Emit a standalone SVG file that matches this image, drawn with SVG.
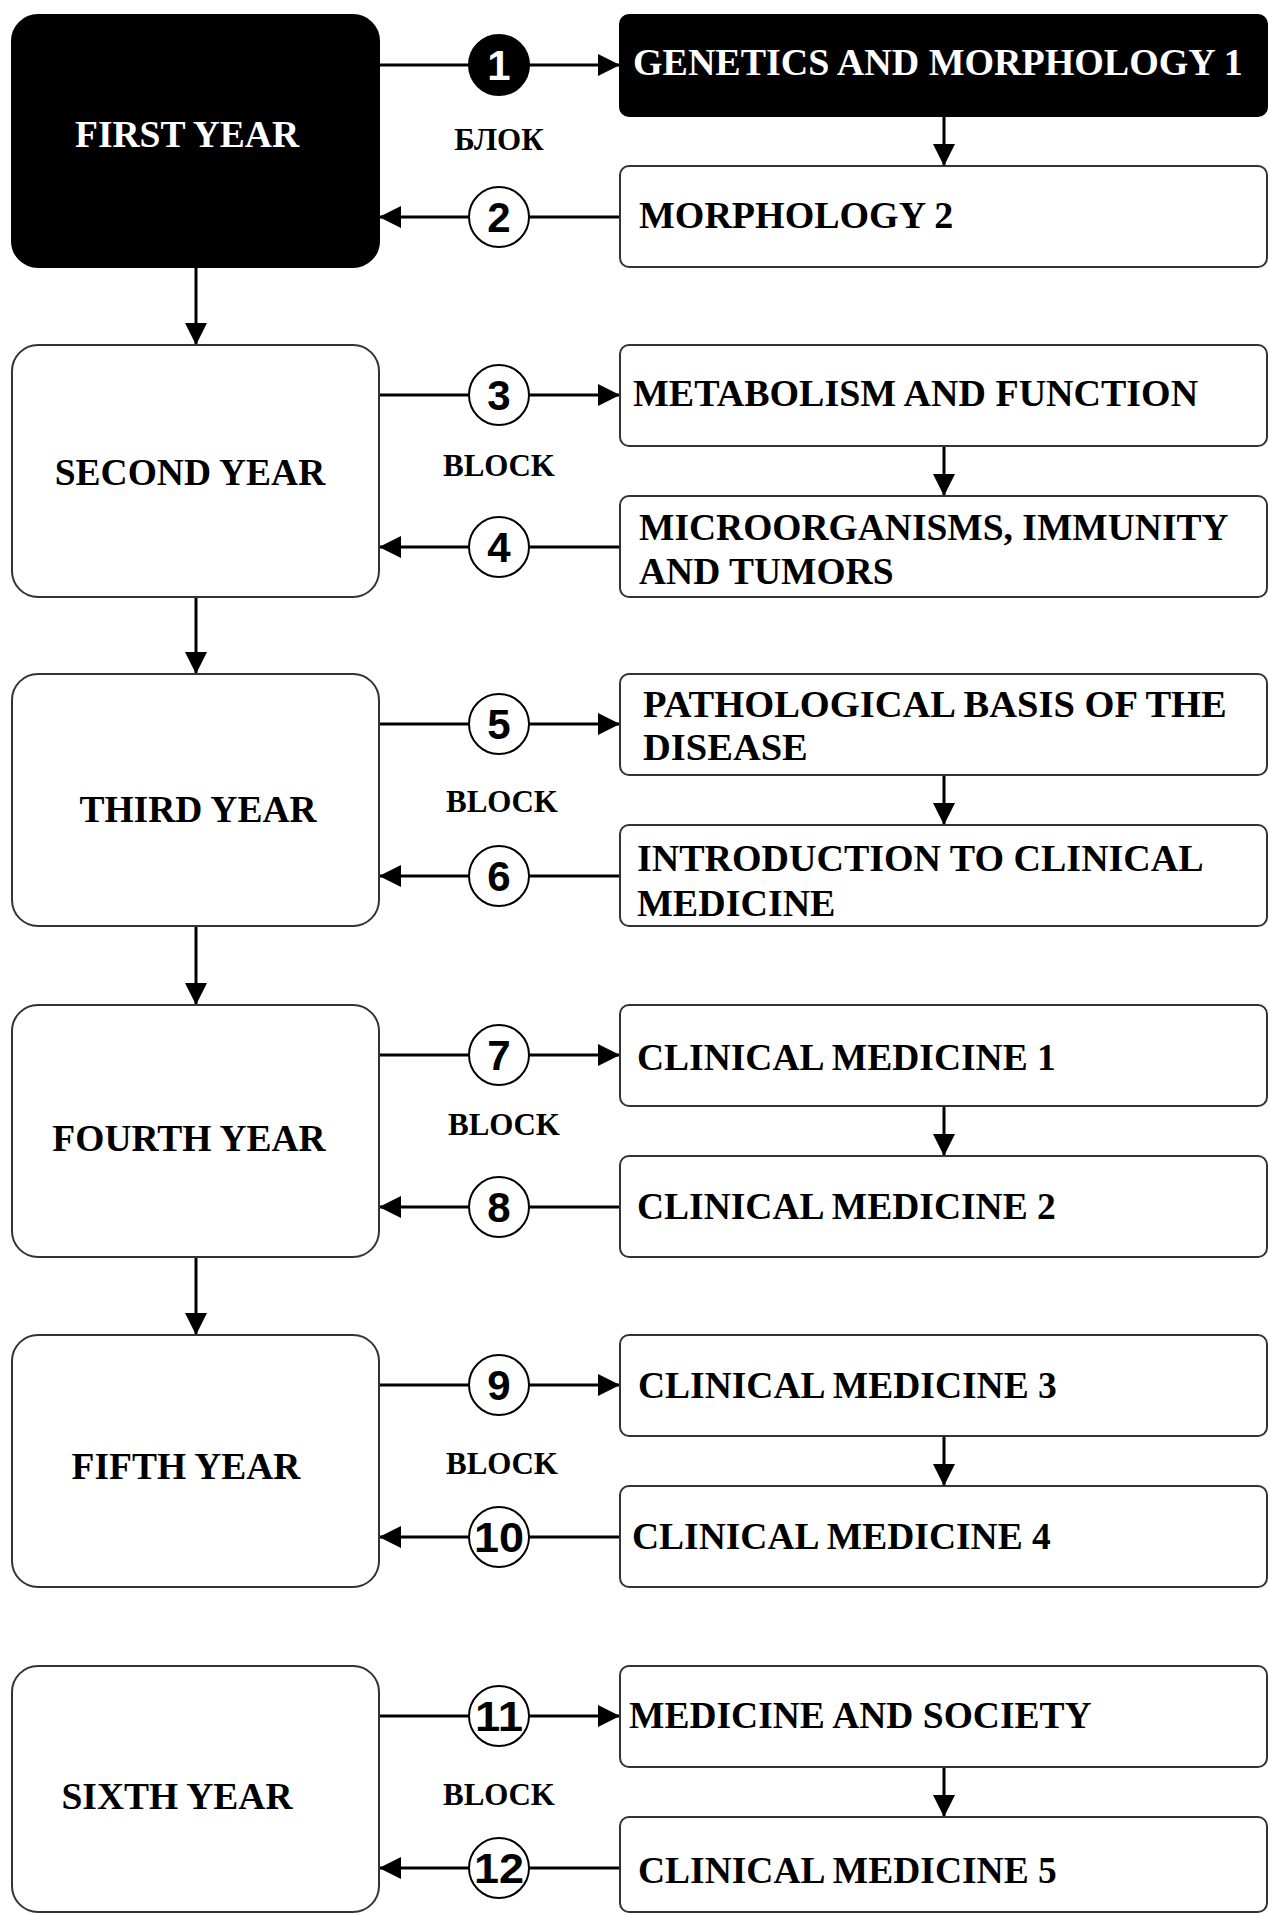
<svg xmlns="http://www.w3.org/2000/svg" width="1268" height="1914" viewBox="0 0 1268 1914">
<style>
.yr{fill:#fff;stroke:#333;stroke-width:2}
.blk{fill:#000;stroke:#000;stroke-width:2}
.bx{fill:#fff;stroke:#333;stroke-width:2}
.t{font-family:"Liberation Serif","Times New Roman",serif;font-weight:bold;font-size:37.5px;fill:#000}
.r{font-size:38px}
.r2{font-size:38.5px}
.tw{fill:#fff}
.mid{text-anchor:middle}
.bl{font-family:"Liberation Serif","Times New Roman",serif;font-weight:bold;font-size:31px;fill:#000;text-anchor:middle}
.ln{stroke:#000;stroke-width:3;fill:none;marker-end:url(#ah)}
.c{fill:#fff;stroke:#000;stroke-width:2}
.cb{fill:#000;stroke:#000;stroke-width:2}
.n{font-family:"Liberation Sans",Arial,sans-serif;font-weight:bold;font-size:42px;fill:#000;text-anchor:middle}
</style>
<defs>
<marker id="ah" viewBox="0 0 22 22" refX="22" refY="11" markerWidth="22" markerHeight="22" markerUnits="userSpaceOnUse" orient="auto">
<path d="M0,0 L22,11 L0,22 z" fill="#000"/>
</marker>
</defs>
<rect width="1268" height="1914" fill="#fff"/>

<g id="connectors">
<line class="ln" x1="196" y1="267" x2="196" y2="345"/>
<line class="ln" x1="196" y1="597" x2="196" y2="674"/>
<line class="ln" x1="196" y1="926" x2="196" y2="1005"/>
<line class="ln" x1="196" y1="1257" x2="196" y2="1335"/>

<line class="ln" x1="944" y1="116" x2="944" y2="166"/>
<line class="ln" x1="944" y1="446" x2="944" y2="496"/>
<line class="ln" x1="944" y1="775" x2="944" y2="825"/>
<line class="ln" x1="944" y1="1106" x2="944" y2="1156"/>
<line class="ln" x1="944" y1="1436" x2="944" y2="1486"/>
<line class="ln" x1="944" y1="1767" x2="944" y2="1817"/>

<line class="ln" x1="379" y1="65" x2="620" y2="65"/>
<line class="ln" x1="620" y1="217" x2="379" y2="217"/>
<line class="ln" x1="379" y1="395" x2="620" y2="395"/>
<line class="ln" x1="620" y1="547" x2="379" y2="547"/>
<line class="ln" x1="379" y1="724" x2="620" y2="724"/>
<line class="ln" x1="620" y1="876" x2="379" y2="876"/>
<line class="ln" x1="379" y1="1055" x2="620" y2="1055"/>
<line class="ln" x1="620" y1="1207" x2="379" y2="1207"/>
<line class="ln" x1="379" y1="1385" x2="620" y2="1385"/>
<line class="ln" x1="620" y1="1537" x2="379" y2="1537"/>
<line class="ln" x1="379" y1="1716" x2="620" y2="1716"/>
<line class="ln" x1="620" y1="1868" x2="379" y2="1868"/>

<g id="labels">
<circle class="cb" cx="499" cy="65" r="30"/><text class="n" x="499" y="80" style="fill:#fff">1</text>
<circle class="c" cx="499" cy="217" r="30"/><text class="n" x="499" y="232">2</text>
<circle class="c" cx="499" cy="395" r="30"/><text class="n" x="499" y="410">3</text>
<circle class="c" cx="499" cy="547" r="30"/><text class="n" x="499" y="562">4</text>
<circle class="c" cx="499" cy="724" r="30"/><text class="n" x="499" y="739">5</text>
<circle class="c" cx="499" cy="876" r="30"/><text class="n" x="499" y="891">6</text>
<circle class="c" cx="499" cy="1055" r="30"/><text class="n" x="499" y="1070">7</text>
<circle class="c" cx="499" cy="1207" r="30"/><text class="n" x="499" y="1222">8</text>
<circle class="c" cx="499" cy="1385" r="30"/><text class="n" x="499" y="1400">9</text>
<circle class="c" cx="499" cy="1537" r="30"/><text class="n" x="499" y="1552" textLength="50" lengthAdjust="spacingAndGlyphs">10</text>
<circle class="c" cx="499" cy="1716" r="30"/><text class="n" x="499" y="1731" textLength="48" lengthAdjust="spacingAndGlyphs">11</text>
<circle class="c" cx="499" cy="1868" r="30"/><text class="n" x="499" y="1883" textLength="50" lengthAdjust="spacingAndGlyphs">12</text>
<text class="bl" x="499" y="150">БЛОК</text>
<text class="bl" x="499" y="476">BLOCK</text>
<text class="bl" x="502" y="812">BLOCK</text>
<text class="bl" x="504" y="1135">BLOCK</text>
<text class="bl" x="502" y="1474">BLOCK</text>
<text class="bl" x="499" y="1805">BLOCK</text>
</g>
</g>

<g id="first-year"><rect class="blk" x="12" y="15" width="367" height="252" rx="26"/><text class="t tw mid" x="187" y="147">FIRST YEAR</text></g>
<g id="second-year"><rect class="yr" x="12" y="345" width="367" height="252" rx="26"/><text class="t mid" x="190" y="485">SECOND YEAR</text></g>
<g id="third-year"><rect class="yr" x="12" y="674" width="367" height="252" rx="26"/><text class="t mid" x="198" y="822">THIRD YEAR</text></g>
<g id="fourth-year"><rect class="yr" x="12" y="1005" width="367" height="252" rx="26"/><text class="t mid" x="189" y="1151">FOURTH YEAR</text></g>
<g id="fifth-year"><rect class="yr" x="12" y="1335" width="367" height="252" rx="26"/><text class="t mid" x="186" y="1479">FIFTH YEAR</text></g>
<g id="sixth-year"><rect class="yr" x="12" y="1666" width="367" height="246" rx="26"/><text class="t mid" x="177" y="1809">SIXTH YEAR</text></g>

<g id="genetics-morphology-1"><rect class="blk" x="620" y="15" width="647" height="101" rx="9"/><text class="t r tw" x="633" y="75">GENETICS AND MORPHOLOGY 1</text></g>
<g id="morphology-2"><rect class="bx" x="620" y="166" width="647" height="101" rx="9"/><text class="t r" x="639" y="228">MORPHOLOGY 2</text></g>
<g id="metabolism"><rect class="bx" x="620" y="345" width="647" height="101" rx="9"/><text class="t r" x="633" y="406">METABOLISM AND FUNCTION</text></g>
<g id="microorganisms"><rect class="bx" x="620" y="496" width="647" height="101" rx="9"/><text class="t" x="639" y="540">MICROORGANISMS, IMMUNITY</text><text class="t" x="639" y="584">AND TUMORS</text></g>
<g id="pathological"><rect class="bx" x="620" y="674" width="647" height="101" rx="9"/><text class="t r2" x="643" y="717">PATHOLOGICAL BASIS OF THE</text><text class="t r2" x="643" y="760">DISEASE</text></g>
<g id="intro-clinical"><rect class="bx" x="620" y="825" width="647" height="101" rx="9"/><text class="t r" x="637" y="871">INTRODUCTION TO CLINICAL</text><text class="t r" x="637" y="916">MEDICINE</text></g>
<g id="clinical-1"><rect class="bx" x="620" y="1005" width="647" height="101" rx="9"/><text class="t" x="637" y="1070">CLINICAL MEDICINE 1</text></g>
<g id="clinical-2"><rect class="bx" x="620" y="1156" width="647" height="101" rx="9"/><text class="t" x="637" y="1219">CLINICAL MEDICINE 2</text></g>
<g id="clinical-3"><rect class="bx" x="620" y="1335" width="647" height="101" rx="9"/><text class="t" x="638" y="1398">CLINICAL MEDICINE 3</text></g>
<g id="clinical-4"><rect class="bx" x="620" y="1486" width="647" height="101" rx="9"/><text class="t" x="632" y="1549">CLINICAL MEDICINE 4</text></g>
<g id="medicine-society"><rect class="bx" x="620" y="1666" width="647" height="101" rx="9"/><text class="t" x="629" y="1728">MEDICINE AND SOCIETY</text></g>
<g id="clinical-5"><rect class="bx" x="620" y="1817" width="647" height="95" rx="9"/><text class="t" x="638" y="1883">CLINICAL MEDICINE 5</text></g>
</svg>
